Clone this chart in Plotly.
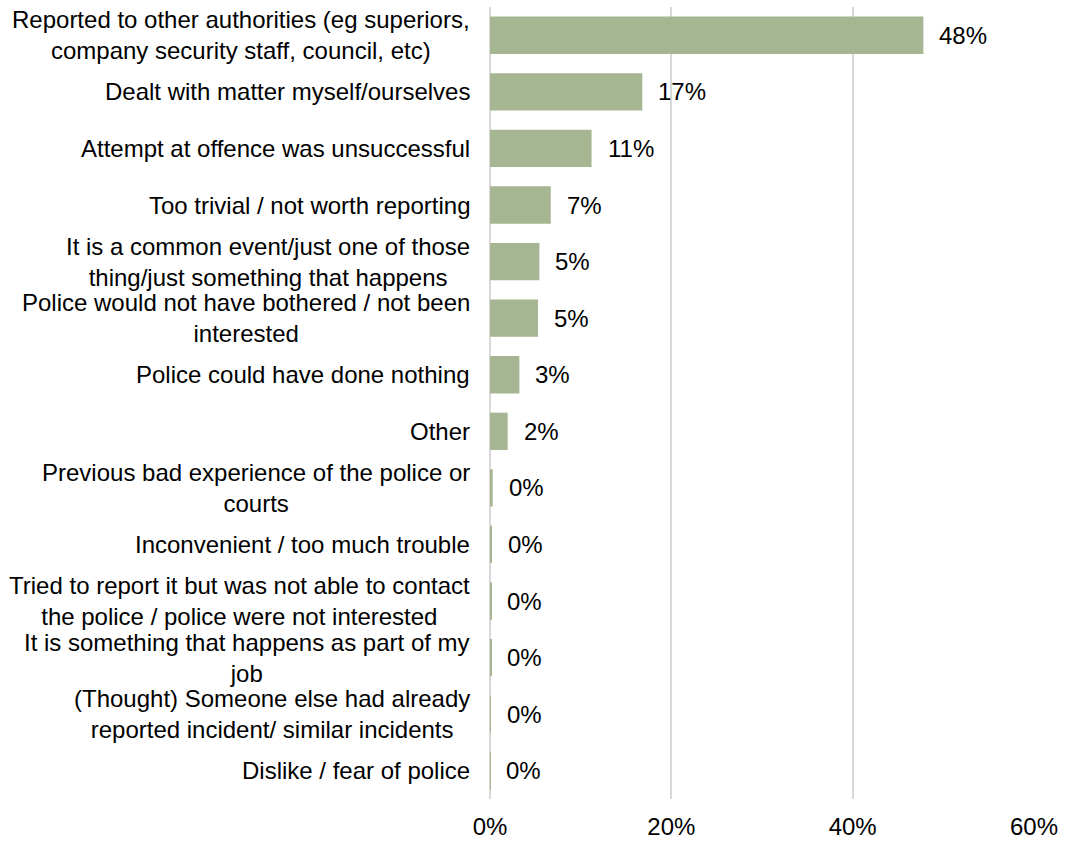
import plotly.graph_objects as go

# Reasons for not reporting, top to bottom (multi-line labels split with <br>)
reasons = [
    "Reported to other authorities (eg superiors,<br>company security staff, council, etc)",
    "Dealt with matter myself/ourselves",
    "Attempt at offence was unsuccessful",
    "Too trivial / not worth reporting",
    "It is a common event/just one of those<br>thing/just something that happens",
    "Police would not have bothered / not been<br>interested",
    "Police could have done nothing",
    "Other",
    "Previous bad experience of the police or<br>courts",
    "Inconvenient / too much trouble",
    "Tried to report it but was not able to contact<br>the police / police were not interested",
    "It is something that happens as part of my<br>job",
    "(Thought) Someone else had already<br>reported incident/ similar incidents",
    "Dislike / fear of police",
]
shares = [47.8, 16.8, 11.2, 6.7, 5.45, 5.3, 3.24, 1.95, 0.3, 0.2, 0.15, 0.15, 0.1, 0.05]
x_ticks = [0, 20, 40, 60]
x_tick_text = ["0%", "20%", "40%", "60%"]

cat_ids = list(range(len(reasons)))
bar_color = "#A6B592"
font_family = "Liberation Sans, Arial, sans-serif"
font_size = 24
label_font = dict(family=font_family, size=font_size, color="#000000")

fig = go.Figure(
    go.Bar(
        x=shares,
        y=cat_ids,
        orientation="h",
        marker=dict(color=bar_color, line=dict(width=0)),
        hoverinfo="skip",
    )
)

annotations = []
for i, (name, v) in enumerate(zip(reasons, shares)):
    # category label: lines centred, block right-aligned beside the axis
    annotations.append(dict(
        x=0, y=i, xref="x", yref="y", text=name, showarrow=False,
        xanchor="right", yanchor="middle", align="center", xshift=-18,
        font=label_font,
    ))
    # value label to the right of the bar
    annotations.append(dict(
        x=v, y=i, xref="x", yref="y", text=f"{round(v)}%", showarrow=False,
        xanchor="left", yanchor="middle", xshift=14, font=label_font,
    ))

fig.update_layout(
    width=1065, height=841,
    margin=dict(l=490, r=31, t=7, b=42),
    paper_bgcolor="white", plot_bgcolor="white",
    showlegend=False,
    bargap=0.34,
    annotations=annotations,
    font=label_font,
)
fig.update_xaxes(
    range=[0, 60], tickvals=x_ticks, ticktext=x_tick_text,
    showgrid=True, gridcolor="#D9D9D9", gridwidth=1.5,
    zeroline=True, zerolinecolor="#D9D9D9", zerolinewidth=1.5,
    showline=False, ticks="outside", ticklen=6, tickcolor="rgba(0,0,0,0)",
    tickfont=label_font, automargin=False,
    fixedrange=True,
)
fig.update_yaxes(
    range=[len(reasons) - 0.5, -0.5], showticklabels=False, showgrid=False,
    zeroline=False, showline=False, fixedrange=True,
)

fig.write_html("out.html")
